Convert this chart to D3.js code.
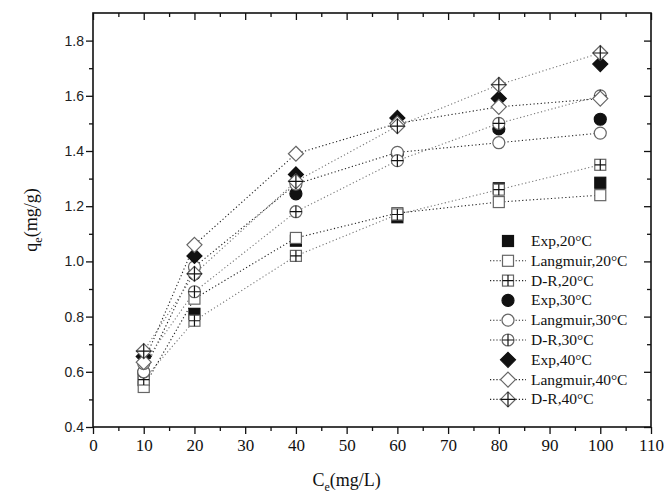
<!DOCTYPE html>
<html>
<head>
<meta charset="utf-8">
<script src="https://cdn.jsdelivr.net/npm/d3@7"></script>
<style>
  body { margin: 0; background: #fff; }
  svg { display: block; }
</style>
</head>
<body>
<div class="chart"></div>
<script>
// data
const conc = [10, 20, 40, 60, 80, 100];
const exp20 = [0.57, 0.81, 1.075, 1.16, 1.265, 1.285];
const lang20 = [0.545, 0.865, 1.085, 1.175, 1.215, 1.24];
const dr20 = [0.572, 0.785, 1.02, 1.17, 1.26, 1.35];
const exp30 = [0.6, 0.955, 1.245, 1.39, 1.48, 1.515];
const lang30 = [0.6, 0.98, 1.28, 1.395, 1.43, 1.465];
const dr30 = [0.63, 0.89, 1.18, 1.365, 1.5, 1.6];
const exp40 = [0.655, 1.02, 1.315, 1.52, 1.59, 1.715];
const lang40 = [0.635, 1.06, 1.39, 1.5, 1.56, 1.59];
const dr40 = [0.675, 0.955, 1.29, 1.49, 1.64, 1.755];
const xTicks = [0, 10, 20, 30, 40, 50, 60, 70, 80, 90, 100, 110];
const yTicks = [0.4, 0.6, 0.8, 1.0, 1.2, 1.4, 1.6, 1.8];

const series = [
  { name: 'Exp,20°C', values: exp20, shape: 'square', filled: true, line: false },
  { name: 'Langmuir,20°C', values: lang20, shape: 'square', filled: false, line: true },
  { name: 'D-R,20°C', values: dr20, shape: 'square', filled: false, cross: true, line: true },
  { name: 'Exp,30°C', values: exp30, shape: 'circle', filled: true, line: false },
  { name: 'Langmuir,30°C', values: lang30, shape: 'circle', filled: false, line: true },
  { name: 'D-R,30°C', values: dr30, shape: 'circle', filled: false, cross: true, line: true },
  { name: 'Exp,40°C', values: exp40, shape: 'diamond', filled: true, line: false },
  { name: 'Langmuir,40°C', values: lang40, shape: 'diamond', filled: false, line: true },
  { name: 'D-R,40°C', values: dr40, shape: 'diamond', filled: false, cross: true, line: true },
];

const W = 667, H = 494;
const margin = { top: 13, right: 16, bottom: 67, left: 93 };
const gw = W - margin.left - margin.right;
const gh = H - margin.top - margin.bottom;

const svg = d3.select('.chart').append('svg')
  .attr('width', W).attr('height', H);

const g = svg.append('g')
  .attr('transform', `translate(${margin.left},${margin.top})`);

const x = d3.scaleLinear().domain([0, 110]).range([0, gw]);
const y = d3.scaleLinear().domain([0.4, 1.9]).range([gh, 0]);

// minor ticks every 5 / 0.1
const xMinor = d3.range(5, 110, 10);
const yMinor = d3.range(0.5, 1.9, 0.2);

const serif = 'Liberation Serif, Times New Roman, serif';
const sans = 'Liberation Sans, Arial, sans-serif';

// bottom axis
const xAxis = g.append('g').attr('transform', `translate(0,${gh})`)
  .call(d3.axisBottom(x).tickValues(xTicks).tickSize(7).tickPadding(5).tickFormat(d3.format('d')));
g.append('g').attr('transform', `translate(0,${gh})`)
  .call(d3.axisBottom(x).tickValues(xMinor).tickSize(4).tickFormat(''));
// top axis, ticks inward
g.append('g').call(d3.axisBottom(x).tickValues(xTicks).tickSize(7).tickFormat(''));
g.append('g').call(d3.axisBottom(x).tickValues(xMinor).tickSize(4).tickFormat(''));
// left axis
const yAxis = g.append('g')
  .call(d3.axisLeft(y).tickValues(yTicks).tickSize(7).tickPadding(2).tickFormat(d3.format('.1f')));
g.append('g').call(d3.axisLeft(y).tickValues(yMinor).tickSize(4).tickFormat(''));
// right axis, ticks inward
g.append('g').attr('transform', `translate(${gw},0)`)
  .call(d3.axisLeft(y).tickValues(yTicks).tickSize(7).tickFormat(''));
g.append('g').attr('transform', `translate(${gw},0)`)
  .call(d3.axisLeft(y).tickValues(yMinor).tickSize(4).tickFormat(''));

g.selectAll('.domain').remove();
g.selectAll('.tick line').attr('stroke', '#111').attr('stroke-width', 1.3);

g.append('rect').attr('width', gw).attr('height', gh)
  .attr('fill', 'none').attr('stroke', '#111').attr('stroke-width', 1.6);

xAxis.selectAll('text')
  .attr('font-family', serif).attr('font-size', 17).attr('fill', '#111');
yAxis.selectAll('text')
  .attr('font-family', sans).attr('font-size', 14).attr('fill', '#222');

// axis titles
const xt = svg.append('text')
  .attr('x', margin.left + x(50)).attr('y', 486)
  .attr('text-anchor', 'middle')
  .attr('font-family', serif).attr('font-size', 18).attr('fill', '#111');
xt.append('tspan').text('C');
xt.append('tspan').attr('font-size', 12).attr('dy', 5).text('e');
xt.append('tspan').attr('dy', -5).text('(mg/L)');

const yt = svg.append('text')
  .attr('transform', `translate(37,${margin.top + y(1.15)}) rotate(-90)`)
  .attr('text-anchor', 'middle')
  .attr('font-family', serif).attr('font-size', 18).attr('fill', '#111');
yt.append('tspan').text('q');
yt.append('tspan').attr('font-size', 12).attr('dy', 5).text('e');
yt.append('tspan').attr('dy', -5).text('(mg/g)');

// marker drawing
const drawMarker = (sel, s) => {
  const stroke = s.filled ? '#111' : '#666';
  const fill = s.filled ? '#111' : '#fff';
  if (s.shape === 'square') {
    sel.append('rect').attr('x', -5.5).attr('y', -5.5).attr('width', 11).attr('height', 11)
      .attr('fill', fill).attr('stroke', stroke).attr('stroke-width', 1.2);
    if (s.cross) sel.append('path').attr('d', 'M-5.5,0H5.5M0,-5.5V5.5')
      .attr('stroke', '#111').attr('stroke-width', 1.2);
  } else if (s.shape === 'circle') {
    sel.append('circle').attr('r', 6)
      .attr('fill', fill).attr('stroke', stroke).attr('stroke-width', 1.2);
    if (s.cross) sel.append('path').attr('d', 'M-6,0H6M0,-6V6')
      .attr('stroke', '#111').attr('stroke-width', 1.2);
  } else {
    sel.append('path').attr('d', 'M0,-7.5L7.5,0L0,7.5L-7.5,0Z')
      .attr('fill', fill).attr('stroke', stroke).attr('stroke-width', 1.2);
    if (s.cross) sel.append('path').attr('d', 'M-7.5,0H7.5M0,-7.5V7.5')
      .attr('stroke', '#111').attr('stroke-width', 1.2);
  }
};

const line = d3.line().x(d => x(d[0])).y(d => y(d[1]));

// model lines
series.filter(s => s.line).forEach((s, i) => {
  g.append('path')
    .datum(conc.map((c, j) => [c, s.values[j]]))
    .attr('d', line)
    .attr('fill', 'none')
    .attr('stroke', i % 2 ? '#777' : '#222')
    .attr('stroke-width', 1.1)
    .attr('stroke-dasharray', '1.2,2.4');
});

// markers
series.forEach(s => {
  conc.forEach((c, j) => {
    const m = g.append('g').attr('transform', `translate(${x(c)},${y(s.values[j])})`);
    drawMarker(m, s);
  });
});

// legend
const legend = svg.append('g').attr('transform', 'translate(490,241)');
series.forEach((s, i) => {
  const row = legend.append('g').attr('transform', `translate(0,${i * 19.8})`);
  if (s.line) {
    row.append('line').attr('x1', 0).attr('x2', 36).attr('y1', 0).attr('y2', 0)
      .attr('stroke', '#222').attr('stroke-width', 1.1).attr('stroke-dasharray', '1.2,2');
  }
  drawMarker(row.append('g').attr('transform', 'translate(18,0)'), s);
  row.append('text').attr('x', 41).attr('y', 5)
    .attr('font-family', serif).attr('font-size', 15.5).attr('fill', '#111')
    .text(s.name);
});
</script>
</body>
</html>
